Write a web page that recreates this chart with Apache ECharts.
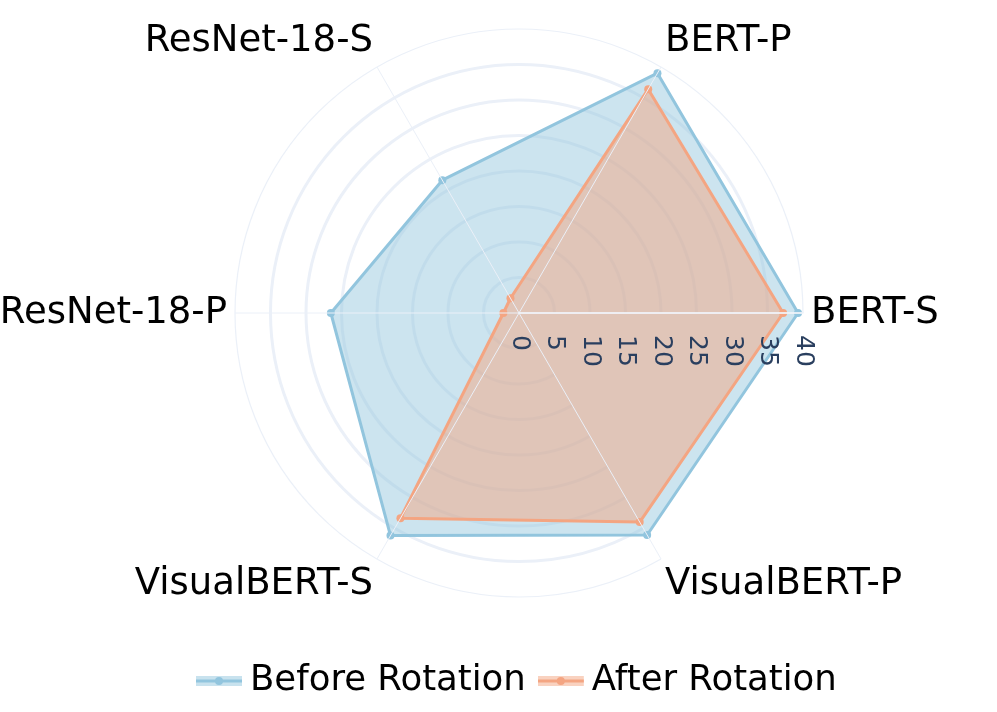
<!DOCTYPE html>
<html>
<head>
<meta charset="utf-8">
<script src="https://cdn.jsdelivr.net/npm/echarts@6/dist/echarts.min.js"></script>
<style>
html,body{margin:0;padding:0;background:#fff;}
#chart{width:997px;height:712px;}
</style>
</head>
<body>
<div id="chart"></div>
<script>
const categories = ['BERT-S', 'BERT-P', 'ResNet-18-S', 'ResNet-18-P', 'VisualBERT-S', 'VisualBERT-P'];
const seriesNames = ['Before Rotation', 'After Rotation'];
const beforeRotation = [39.3, 39.0, 21.6, 26.5, 36.2, 36.1];
const afterRotation = [37.2, 36.4, 2.4, 2.2, 33.4, 34.0];
const radialMin = 0;
const radialMax = 40;
const radialStep = 5;

const FONT = 'DejaVu Sans, Verdana, sans-serif';
const colors = ['#92c5de', '#f4a582'];
const fills = ['rgba(146,197,222,0.47)', 'rgba(244,165,130,0.5)'];
const CX = 519, CY = 313, R = 284;

function legendIcon(line, fill) {
  const svg = '<svg xmlns="http://www.w3.org/2000/svg" width="49" height="14" viewBox="0 0 49 14">' +
    '<rect x="0" y="2" width="46" height="10" fill="' + fill + '"/>' +
    '<rect x="0" y="5.5" width="46" height="3" fill="' + line + '"/>' +
    '<circle cx="23" cy="7" r="4" fill="' + line + '"/></svg>';
  return 'image://data:image/svg+xml;charset=utf-8,' + encodeURIComponent(svg);
}

const chart = echarts.init(document.getElementById('chart'), null, {renderer: 'canvas'});
const innerMax = radialMax - radialStep;

const option = {
  backgroundColor: '#ffffff',
  animation: false,
  polar: [
    {center: [CX, CY], radius: R * innerMax / radialMax},
    {center: [CX, CY], radius: R}
  ],
  angleAxis: [
    {
      polarIndex: 0, type: 'category', data: categories, startAngle: 0, clockwise: false,
      boundaryGap: false, z: 0,
      axisLine: {show: false}, axisTick: {show: false}, axisLabel: {show: false}, splitLine: {show: false}
    },
    {
      polarIndex: 1, type: 'category', data: categories, startAngle: 0, clockwise: false,
      boundaryGap: false, z: 5,
      axisLine: {show: true, lineStyle: {color: '#ebf0f8', width: 1.2}},
      axisTick: {show: false},
      splitLine: {show: true, lineStyle: {color: '#ebf0f8', width: 1}},
      axisLabel: {show: true, color: '#000', fontSize: 37, fontFamily: FONT, margin: 8}
    }
  ],
  radiusAxis: [
    {
      polarIndex: 0, min: radialMin, max: innerMax, interval: radialStep, z: 0,
      axisLine: {show: false}, axisTick: {show: false}, axisLabel: {show: false},
      splitLine: {show: true, lineStyle: {color: '#ebf0f8', width: 3}}
    },
    {
      polarIndex: 1, min: radialMin, max: radialMax, interval: radialStep, z: 5,
      axisLine: {show: true, lineStyle: {color: '#f2f5fa', width: 1.5}},
      axisTick: {show: false},
      splitLine: {show: false},
      axisLabel: {show: true, rotate: -90, align: 'left', verticalAlign: 'middle',
        color: '#2a3f5f', fontSize: 25, fontFamily: FONT, margin: -22}
    }
  ],
  radar: {
    center: [CX, CY], radius: R, startAngle: 0, shape: 'circle',
    indicator: categories.map(function (c) { return {name: c, min: radialMin, max: radialMax}; }),
    axisName: {show: false},
    axisLine: {show: false}, splitLine: {show: false}, splitArea: {show: false}, axisTick: {show: false}, axisLabel: {show: false}
  },
  legend: {
    bottom: 8, left: 191, itemWidth: 49, itemHeight: 14, itemGap: 12,
    textStyle: {color: '#000', fontSize: 35.5, fontFamily: FONT},
    data: [
      {name: seriesNames[0], icon: legendIcon(colors[0], 'rgba(146,197,222,0.5)')},
      {name: seriesNames[1], icon: legendIcon(colors[1], 'rgba(244,165,130,0.5)')}
    ]
  },
  series: [
    {
      type: 'radar', name: seriesNames[0], z: 2,
      symbol: 'circle', symbolSize: 8,
      lineStyle: {color: colors[0], width: 3},
      itemStyle: {color: colors[0]},
      areaStyle: {color: fills[0], opacity: 1},
      data: [{name: seriesNames[0], value: beforeRotation}]
    },
    {
      type: 'radar', name: seriesNames[1], z: 3,
      symbol: 'circle', symbolSize: 8,
      lineStyle: {color: colors[1], width: 3},
      itemStyle: {color: colors[1]},
      areaStyle: {color: fills[1], opacity: 1},
      data: [{name: seriesNames[1], value: afterRotation}]
    }
  ]
};
chart.setOption(option);
</script>
</body>
</html>
